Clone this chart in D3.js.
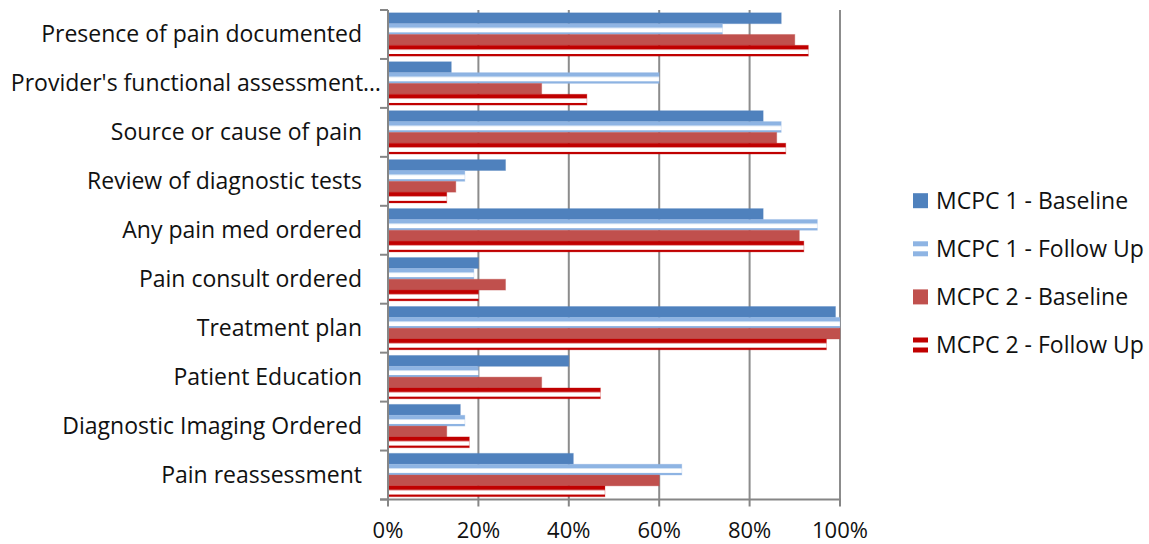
<!DOCTYPE html>
<html>
<head>
<meta charset="utf-8">
<script src="https://cdn.jsdelivr.net/npm/d3@7"></script>
<style>
  body { margin: 0; background: #fff; }
  svg { display: block; font-family: "Open Sans", Lato, sans-serif; }
</style>
</head>
<body>
<svg id="chart" width="1149" height="544"></svg>
<script>
const categories = [
  'Presence of pain documented',
  "Provider's functional assessment\u2026",
  'Source or cause of pain',
  'Review of diagnostic tests',
  'Any pain med ordered',
  'Pain consult ordered',
  'Treatment plan',
  'Patient Education',
  'Diagnostic Imaging Ordered',
  'Pain reassessment'
];
const seriesNames = ['MCPC 1 - Baseline', 'MCPC 1 - Follow Up', 'MCPC 2 - Baseline', 'MCPC 2 - Follow Up'];
const mcpc1Baseline = [87, 14, 83, 26, 83, 20, 99, 40, 16, 41];
const mcpc1FollowUp = [74, 60, 87, 17, 95, 19, 100, 20, 17, 65];
const mcpc2Baseline = [90, 34, 86, 15, 91, 26, 100, 34, 13, 60];
const mcpc2FollowUp = [93, 44, 88, 13, 92, 20, 97, 47, 18, 48];
const tickValues = [0, 20, 40, 60, 80, 100];

const seriesValues = [mcpc1Baseline, mcpc1FollowUp, mcpc2Baseline, mcpc2FollowUp];
const colors = ['#4f81bd', '#8eb4e3', '#c0504d', '#c00000'];
const striped = [false, true, false, true];

const svg = d3.select('#chart');
const plotLeft = 388, plotRight = 840, plotTop = 10, plotBottom = 499.5;

const x = d3.scaleLinear().domain([0, 100]).range([plotLeft, plotRight]);
const y = d3.scaleBand().domain(categories).range([plotTop, plotBottom]).paddingInner(0).paddingOuter(0);
const ySub = d3.scaleBand().domain(seriesNames).range([0, y.bandwidth()]).paddingInner(0).paddingOuter(0.26);

// stripe patterns for the follow-up series: colour, white gap, colour
const defs = svg.append('defs');
const period = y.step() / 5;
function stripePattern(id, color, offset) {
  const p = defs.append('pattern')
    .attr('id', id)
    .attr('patternUnits', 'userSpaceOnUse')
    .attr('width', 10)
    .attr('height', period)
    .attr('y', offset);
  p.append('rect').attr('width', 10).attr('height', period).attr('fill', '#fff');
  p.append('rect').attr('width', 10).attr('height', period * 0.54).attr('fill', color);
}
seriesNames.forEach((s, i) => {
  if (striped[i]) stripePattern('stripe' + i, colors[i], plotTop + ySub(s) - 1.3);
});
function fillFor(i) {
  return striped[i] ? `url(#stripe${i})` : colors[i];
}

// gridlines
svg.append('g')
  .selectAll('line')
  .data(tickValues.slice(1))
  .join('line')
  .attr('x1', d => x(d)).attr('x2', d => x(d))
  .attr('y1', plotTop).attr('y2', plotBottom)
  .attr('stroke', '#8c8c8c')
  .attr('stroke-width', 2);

// bars
const groups = svg.append('g')
  .selectAll('g')
  .data(categories)
  .join('g')
  .attr('transform', d => `translate(0,${y(d)})`);

groups.selectAll('rect')
  .data((c, ci) => seriesNames.map((s, si) => ({ s, si, v: seriesValues[si][ci] })))
  .join('rect')
  .attr('x', x(0))
  .attr('y', d => ySub(d.s))
  .attr('width', d => x(d.v) - x(0))
  .attr('height', ySub.bandwidth())
  .attr('fill', d => fillFor(d.si))
  .attr('stroke', d => colors[d.si])
  .attr('stroke-opacity', d => striped[d.si] ? 0.25 : 0.35)
  .attr('stroke-width', 1);

// axes
const axisColor = '#868686';
svg.append('line')
  .attr('x1', plotLeft).attr('x2', plotLeft)
  .attr('y1', plotTop).attr('y2', plotBottom)
  .attr('stroke', axisColor).attr('stroke-width', 2);
svg.append('line')
  .attr('x1', 380).attr('x2', plotRight + 1)
  .attr('y1', plotBottom).attr('y2', plotBottom)
  .attr('stroke', axisColor).attr('stroke-width', 2);

// category ticks on the left axis
const catTicks = categories.map(c => y(c)).concat([plotBottom]);
svg.append('g')
  .selectAll('line')
  .data(catTicks)
  .join('line')
  .attr('x1', 380).attr('x2', plotLeft)
  .attr('y1', d => d).attr('y2', d => d)
  .attr('stroke', axisColor).attr('stroke-width', 2);

// value ticks on the bottom axis
svg.append('g')
  .selectAll('line')
  .data(tickValues)
  .join('line')
  .attr('x1', d => x(d)).attr('x2', d => x(d))
  .attr('y1', plotBottom).attr('y2', plotBottom + 7)
  .attr('stroke', axisColor).attr('stroke-width', 2);

svg.append('g')
  .selectAll('text')
  .data(tickValues)
  .join('text')
  .attr('x', d => x(d))
  .attr('y', 538)
  .attr('text-anchor', 'middle')
  .style('font-size', '22px')
  .style('fill', '#111')
  .text(d => d + '%');

// category labels (the truncated one runs closer to the axis)
svg.append('g')
  .selectAll('text')
  .data(categories)
  .join('text')
  .attr('x', d => d.endsWith('\u2026') ? 381 : 362)
  .attr('y', d => y(d) + y.bandwidth() / 2)
  .attr('dy', '0.33em')
  .attr('text-anchor', 'end')
  .style('font-size', '23px')
  .style('fill', '#111')
  .text(d => d);

// legend
const legendY = d3.scalePoint().domain(seriesNames).range([200.7, 345]);
legendY.domain().forEach((s, i) => {
  const cy = legendY(s);
  if (striped[i]) {
    const sw = 15, h = sw / 3;
    [0, 2].forEach(k => {
      svg.append('rect')
        .attr('x', 913).attr('y', cy - sw / 2 + k * h)
        .attr('width', sw).attr('height', h)
        .attr('fill', colors[i]);
    });
  } else {
    svg.append('rect')
      .attr('x', 913).attr('y', cy - 7.5)
      .attr('width', 15).attr('height', 15)
      .attr('fill', colors[i]);
  }
  svg.append('text')
    .attr('x', 936)
    .attr('y', cy)
    .attr('dy', '0.35em')
    .style('font-size', '23px')
    .style('fill', '#111')
    .text(s);
});
</script>
</body>
</html>
